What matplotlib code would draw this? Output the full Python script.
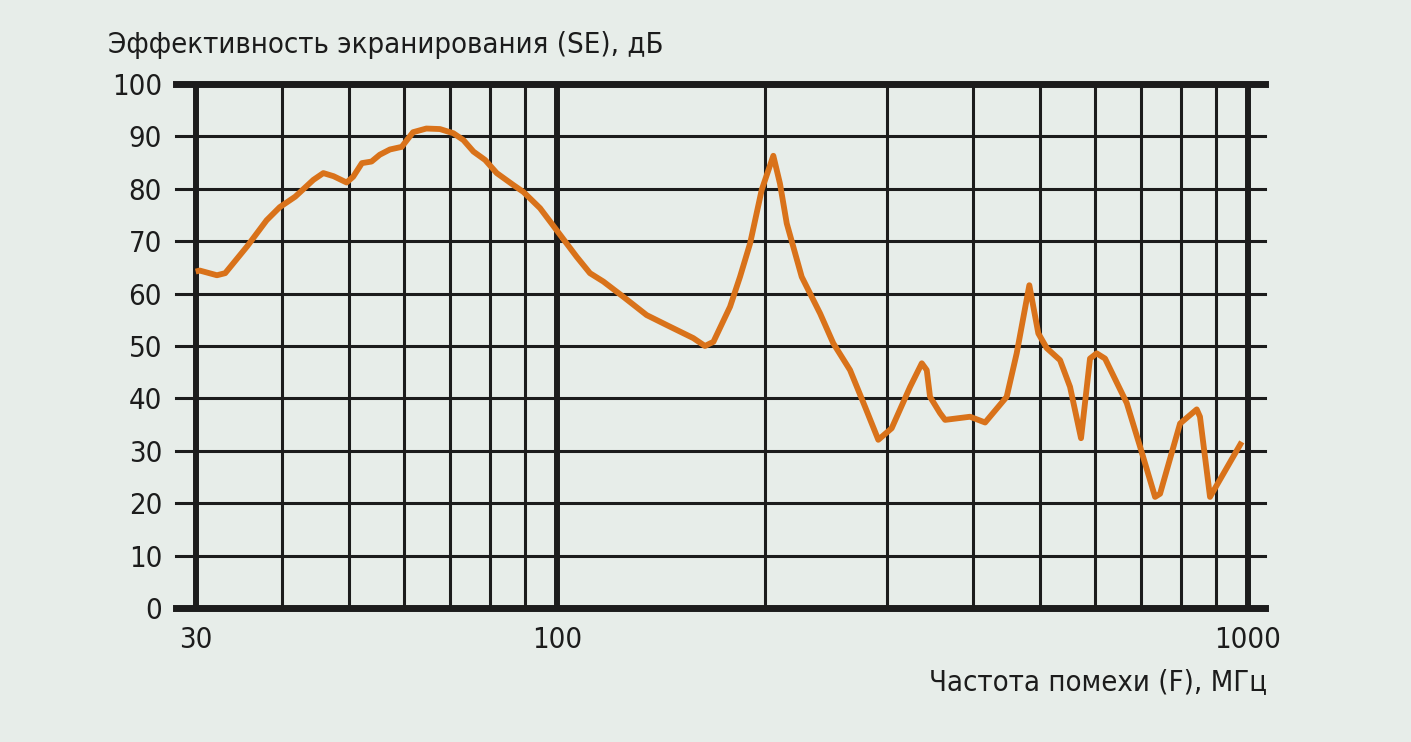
import numpy as np
import matplotlib.pyplot as plt
from matplotlib.ticker import NullLocator, FixedLocator

# Shielding effectiveness curve
freq_mhz = [30, 30.4, 32.2, 33.1, 35.6, 38.0, 39.7, 41.8, 44.4, 45.9, 47.5, 49.6,
            50.7, 52.2, 53.9, 55.4, 57.3, 59.6, 60.9, 61.9, 64.7, 67.7, 70.8, 73.2,
            75.7, 78.7, 81.8, 86.5, 89.4, 94.5, 100, 106.8, 111.6, 116.7, 124.7,
            134.8, 144.1, 157.5, 163.7, 168.4, 178.0, 184.0, 190.3, 197.8, 205.6,
            210.2, 215.0, 226.0, 240.3, 251.1, 265.5, 279.1, 291.7, 305.0, 324.3,
            337.2, 342.8, 346.6, 358.3, 364.4, 396.0, 416.4, 447.4, 462.6, 482.5,
            497.2, 511.3, 534.5, 552.6, 573.2, 590.6, 603.9, 621.0, 667.6, 697.8,
            733.6, 745.9, 797.3, 842.8, 852.0, 881.0, 979.3]
se_db = [64.2, 64.4, 63.5, 63.9, 69.0, 74.0, 76.5, 78.5, 81.7, 83.0, 82.4, 81.2,
         82.3, 84.9, 85.2, 86.5, 87.5, 88.0, 89.6, 90.8, 91.5, 91.4, 90.6, 89.3,
         87.1, 85.5, 83.0, 80.7, 79.4, 76.3, 72.0, 67.0, 63.9, 62.3, 59.4,
         55.9, 54.0, 51.5, 50.0, 50.8, 57.5, 63.2, 69.6, 79.8, 86.3,
         81.0, 73.4, 63.2, 56.2, 50.5, 45.4, 38.4, 32.1, 34.3, 42.2,
         46.7, 45.4, 40.3, 37.2, 35.9, 36.5, 35.4, 40.3, 48.6, 61.6,
         52.4, 49.6, 47.3, 42.2, 32.4, 47.6, 48.6, 47.6, 39.1, 30.8,
         21.2, 21.8, 35.2, 37.9, 36.5, 21.2, 31.7]

x_ticks = [30, 100, 1000]
x_tick_labels = ['30', '100', '1000']
y_ticks = list(range(0, 101, 10))
grid_freqs = [30, 40, 50, 60, 70, 80, 90, 100, 200, 300, 400, 500, 600, 700, 800, 900, 1000]
thick_freqs = [30, 100, 1000]

bg = '#e7ede9'
ink = '#1c1c1c'
orange = '#d9721a'

plt.rcParams['font.family'] = ['DejaVu Sans']
plt.rcParams['font.stretch'] = 'condensed'

fig = plt.figure(figsize=(14.11, 7.42), dpi=100, facecolor=bg)
ax = fig.add_axes([0.1247, 0.1806, 0.7718, 0.7062])
ax.set_facecolor(bg)
ax.set_xscale('log')
ax.set_xlim(28.09, 1058)
ax.set_ylim(0, 100)
for s in ax.spines.values():
    s.set_visible(False)

# Grid: thick lines at decade edges and at 0 / 100 dB
for f in grid_freqs:
    lw = 4.3 if f in thick_freqs else 2.2
    ax.axvline(f, color=ink, lw=lw, zorder=1)
for v in y_ticks:
    lw = 5.0 if v in (0, 100) else 2.2
    ax.axhline(v, color=ink, lw=lw, zorder=1, clip_on=False)

ax.plot(freq_mhz, se_db, color=orange, lw=4.2, zorder=3,
        solid_capstyle='butt', solid_joinstyle='round')

ax.xaxis.set_major_locator(FixedLocator(x_ticks))
ax.xaxis.set_minor_locator(NullLocator())
ax.set_xticklabels(x_tick_labels)
ax.set_yticks(y_ticks)
ax.tick_params(length=0, labelsize=21, colors=ink)
ax.tick_params(axis='x', pad=13)
ax.tick_params(axis='y', pad=10)

fig.text(108 / 1411, 1 - 45 / 742, 'Эффективность экранирования (SE), дБ',
         fontsize=21, color=ink, ha='left', va='center')
fig.text(1267 / 1411, 1 - 682 / 742, 'Частота помехи (F), МГц',
         fontsize=21, color=ink, ha='right', va='center')

fig.savefig('out.png', dpi=100, facecolor=bg)
